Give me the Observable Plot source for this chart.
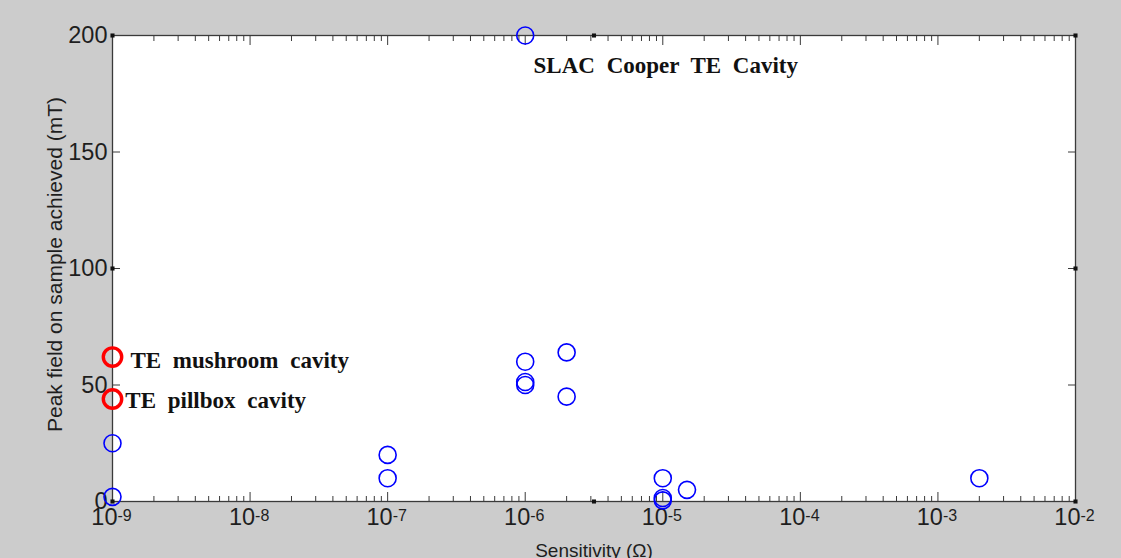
<!DOCTYPE html>
<html><head><meta charset="utf-8">
<script src="https://cdn.jsdelivr.net/npm/d3@7"></script>
<script src="https://cdn.jsdelivr.net/npm/@observablehq/plot@0.6"></script>
<style>
html,body{margin:0;padding:0;background:#cccccc;}
#chart svg{display:block;}
g[font-family="Liberation Serif"] text{word-spacing:6px;}
</style></head><body><div id="chart"></div>
<script>
// Blue points: sensitivity (Ω) and peak field (mT)
const blueX = [1e-9, 1e-9, 1e-7, 1e-7, 1e-6, 1e-6, 1e-6, 1e-6, 2e-6, 2e-6, 1e-5, 1e-5, 1e-5, 1.5e-5, 2e-3];
const blueY = [25, 2, 20, 10, 200, 60, 51.3, 50, 64, 45, 10, 1.5, 0.5, 5, 10];
// Red highlighted points
const redX = [1e-9, 1e-9];
const redY = [62, 44];
// Annotations
const annotText = ["SLAC Cooper TE Cavity", "TE mushroom cavity", "TE pillbox cavity"];
const annotX = [1.15e-6, 1.35e-9, 1.24e-9];
const annotY = [187, 60.3, 43.5];
// Axes
const xDecades = [1e-9, 1e-8, 1e-7, 1e-6, 1e-5, 1e-4, 1e-3, 1e-2];
const xExponents = ["-9", "-8", "-7", "-6", "-5", "-4", "-3", "-2"];
const yTicks = [0, 50, 100, 150, 200];
const xLabel = "Sensitivity (Ω)";
const yLabel = "Peak field on sample achieved (mT)";
const xDomain = [1e-9, 1e-2];
const yDomain = [0, 200];

const xMinor = [];
for (const d of xDecades.slice(0, -1)) for (let k = 2; k <= 9; k++) xMinor.push(d * k);

const handles = [];
const xh = [xDomain[0], Math.sqrt(xDomain[0] * xDomain[1]), xDomain[1]];
const yh = [yDomain[0], (yDomain[0] + yDomain[1]) / 2, yDomain[1]];
for (let a = 0; a < 3; a++) for (let b = 0; b < 3; b++) if (!(a === 1 && b === 1)) handles.push({x: xh[a], y: yh[b]});

const blueIdx = d3.range(blueX.length);
const redIdx = d3.range(redX.length);
const annIdx = d3.range(annotText.length);
const axisCol = "#3a3a3a";

const plot = Plot.plot({
  width: 1121, height: 558,
  marginLeft: 112, marginRight: 46, marginTop: 35, marginBottom: 57,
  style: {background: "#cccccc", fontFamily: "Liberation Sans, Arial, sans-serif", color: "#1e1e1e"},
  x: {type: "log", domain: xDomain},
  y: {domain: yDomain},
  marks: [
    Plot.frame({fill: "white", stroke: "none"}),
    // inward ticks
    Plot.axisX(xDecades, {anchor: "bottom", tickSize: -9, tickFormat: () => "", stroke: axisCol, label: null}),
    Plot.axisX(xMinor, {anchor: "bottom", tickSize: -5, tickFormat: () => "", stroke: axisCol, label: null}),
    Plot.axisX(xDecades, {anchor: "top", tickSize: -9, tickFormat: () => "", stroke: axisCol, label: null}),
    Plot.axisX(xMinor, {anchor: "top", tickSize: -5, tickFormat: () => "", stroke: axisCol, label: null}),
    Plot.axisY(yTicks, {anchor: "left", tickSize: -8, tickFormat: () => "", stroke: axisCol, label: null}),
    Plot.axisY(yTicks, {anchor: "right", tickSize: -8, tickFormat: () => "", stroke: axisCol, label: null}),
    // y tick labels
    Plot.axisY(yTicks, {anchor: "left", tickSize: 0, tickPadding: 5, fontSize: 23.5, label: null}),
    // x tick labels: 10 with superscript exponent
    Plot.text(xDecades, {x: d => d, frameAnchor: "bottom", text: () => "10", textAnchor: "end", dx: 5, dy: 23, lineAnchor: "bottom", fontSize: 23.5}),
    Plot.text(xDecades, {x: d => d, frameAnchor: "bottom", text: (d, i) => xExponents[i], textAnchor: "start", dx: 5, dy: 19, lineAnchor: "bottom", fontSize: 16}),
    Plot.frame({stroke: axisCol, strokeWidth: 1.3}),
    // axis labels
    Plot.text([xLabel], {text: d => d, frameAnchor: "bottom", textAnchor: "middle", dy: 55, lineAnchor: "bottom", fontSize: 19}),
    Plot.text([yLabel], {text: d => d, frameAnchor: "left", textAnchor: "middle", lineAnchor: "middle", dx: -57, dy: -4, rotate: -90, fontSize: 21}),
    // selection handles
    Plot.dot(handles, {x: "x", y: "y", symbol: "square", r: 2.3, fill: "#111"}),
    // data
    Plot.dot(blueIdx, {x: i => blueX[i], y: i => blueY[i], r: 8.5, stroke: "#0000ff", strokeWidth: 1.6, fill: "none"}),
    Plot.dot(redIdx, {x: i => redX[i], y: i => redY[i], r: 9.2, stroke: "#ff0000", strokeWidth: 3.4, fill: "none"}),
    Plot.text(annIdx, {x: i => annotX[i], y: i => annotY[i], text: i => annotText[i], textAnchor: "start", fontFamily: "Liberation Serif", fontWeight: "bold", fontSize: 23, fill: "#111"})
  ]
});
document.getElementById("chart").appendChild(plot);
</script></body></html>
